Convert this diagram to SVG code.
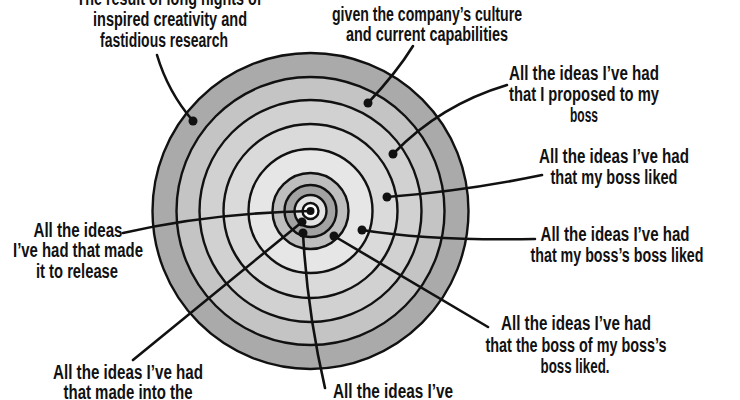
<svg xmlns="http://www.w3.org/2000/svg" width="740" height="400" viewBox="0 0 740 400">
<style>
.ring{stroke:#111;stroke-width:2.4}
.lead{fill:none;stroke:#111;stroke-width:2.6;stroke-linecap:round}
.dot{fill:#111}
text{font-family:"Liberation Sans","DejaVu Sans",sans-serif;font-size:20px;font-weight:bold;fill:#111;text-anchor:middle}
</style>
<rect width="740" height="400" fill="#fff"/>
<g id="target">
<circle class="ring" cx="310.5" cy="211" r="158" fill="#aaaaaa"/>
<circle class="ring" cx="310.5" cy="211" r="134" fill="#c4c4c4"/>
<circle class="ring" cx="310.5" cy="211" r="111" fill="#d1d1d1"/>
<circle class="ring" cx="310.5" cy="211" r="87" fill="#dadada"/>
<circle class="ring" cx="310.5" cy="211" r="62" fill="#e6e6e6"/>
<circle class="ring" cx="310.5" cy="211" r="38" fill="#bebebe"/>
<circle class="ring" cx="310.5" cy="211" r="26" fill="#a2a2a2"/>
<circle class="ring" cx="310.5" cy="211" r="16" fill="#e2e2e2"/>
<circle class="ring" cx="310.5" cy="211" r="8" fill="#ffffff"/>
</g>
<g id="connectors">
<path class="lead" d="M157,55 Q168,92 193,121"/>
<path class="lead" d="M413,46 Q397,72 368,103"/>
<path class="lead" d="M507,85 Q440,105 393,154"/>
<path class="lead" d="M542,175 Q465,191 387,197"/>
<path class="lead" d="M535,239 Q430,241 362,230"/>
<path class="lead" d="M488,327 L334,236"/>
<path class="lead" d="M325,388 Q307,310 303,233"/>
<path class="lead" d="M133,360 L302,222"/>
<path class="lead" d="M123,233 Q210,213 310.5,211"/>
<circle class="dot" cx="193" cy="121" r="4.5"/>
<circle class="dot" cx="368" cy="103" r="4.5"/>
<circle class="dot" cx="393" cy="154" r="4.5"/>
<circle class="dot" cx="387" cy="197" r="4.5"/>
<circle class="dot" cx="362" cy="230" r="4.5"/>
<circle class="dot" cx="334" cy="236" r="4.5"/>
<circle class="dot" cx="303" cy="233" r="4.5"/>
<circle class="dot" cx="302" cy="222" r="4.5"/>
<circle class="dot" cx="310.5" cy="211" r="4"/>
</g>
<g id="label-research">
<text x="169" y="5" textLength="185" lengthAdjust="spacingAndGlyphs">The result of long nights of</text>
<text x="170" y="26" textLength="154" lengthAdjust="spacingAndGlyphs">inspired creativity and</text>
<text x="164" y="47" textLength="128" lengthAdjust="spacingAndGlyphs">fastidious research</text>
</g>
<g id="label-culture">
<text x="427" y="21" textLength="190" lengthAdjust="spacingAndGlyphs">given the company’s culture</text>
<text x="427" y="41" textLength="162" lengthAdjust="spacingAndGlyphs">and current capabilities</text>
</g>
<g id="label-proposed">
<text x="584" y="80" textLength="150" lengthAdjust="spacingAndGlyphs">All the ideas I’ve had</text>
<text x="584" y="101" textLength="150" lengthAdjust="spacingAndGlyphs">that I proposed to my</text>
<text x="584" y="122" textLength="28" lengthAdjust="spacingAndGlyphs">boss</text>
</g>
<g id="label-boss">
<text x="614" y="163" textLength="150" lengthAdjust="spacingAndGlyphs">All the ideas I’ve had</text>
<text x="614" y="184" textLength="127" lengthAdjust="spacingAndGlyphs">that my boss liked</text>
</g>
<g id="label-boss2">
<text x="615" y="241" textLength="149" lengthAdjust="spacingAndGlyphs">All the ideas I’ve had</text>
<text x="617" y="262" textLength="173" lengthAdjust="spacingAndGlyphs">that my boss’s boss liked</text>
</g>
<g id="label-boss3">
<text x="576" y="330" textLength="150" lengthAdjust="spacingAndGlyphs">All the ideas I’ve had</text>
<text x="576" y="352" textLength="181" lengthAdjust="spacingAndGlyphs">that the boss of my boss’s</text>
<text x="575" y="373" textLength="69" lengthAdjust="spacingAndGlyphs">boss liked.</text>
</g>
<g id="label-bottom">
<text x="393" y="398" textLength="120" lengthAdjust="spacingAndGlyphs">All the ideas I’ve</text>
</g>
<g id="label-into">
<text x="128" y="379" textLength="150" lengthAdjust="spacingAndGlyphs">All the ideas I’ve had</text>
<text x="128" y="399" textLength="129" lengthAdjust="spacingAndGlyphs">that made into the</text>
</g>
<g id="label-release">
<text x="78" y="237" textLength="89" lengthAdjust="spacingAndGlyphs">All the ideas</text>
<text x="78" y="257" textLength="130" lengthAdjust="spacingAndGlyphs">I’ve had that made</text>
<text x="77" y="278" textLength="82" lengthAdjust="spacingAndGlyphs">it to release</text>
</g>
</svg>
